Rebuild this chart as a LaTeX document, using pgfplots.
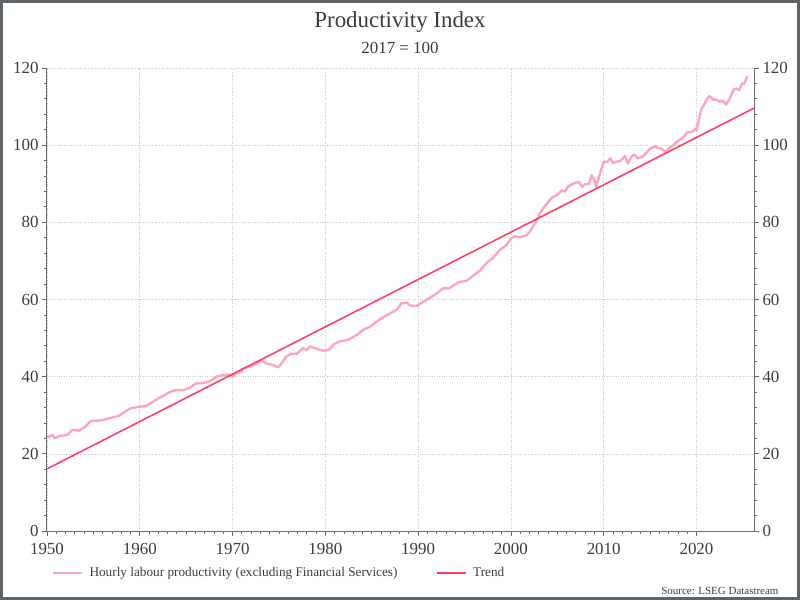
\documentclass[border=0pt]{standalone}
\usepackage{pgfplots}
\pgfplotsset{compat=1.18}
\usepackage{fontspec}
\setmainfont{Liberation Serif}

\definecolor{prodpink}{RGB}{255,165,185}
\definecolor{trendred}{RGB}{255,65,105}
\definecolor{txtgray}{RGB}{60,60,60}
\definecolor{axgray}{RGB}{105,105,105}
\definecolor{framegray}{RGB}{95,100,105}

% hourly labour productivity, excl. financial services (2017 = 100)
\pgfplotstableread{
year  value
1950.0 24.2
1950.6 24.9
1950.8 24.0
1951.3 24.6
1952.2 24.9
1952.7 26.2
1953.4 26.0
1954.1 27.0
1954.7 28.5
1955.4 28.6
1955.9 28.7
1957.0 29.4
1957.7 29.8
1958.4 30.9
1959.0 31.8
1960.0 32.2
1960.7 32.4
1961.4 33.5
1962.1 34.5
1962.8 35.4
1963.5 36.3
1964.0 36.5
1964.7 36.5
1965.4 37.2
1966.1 38.3
1966.8 38.3
1967.6 38.9
1968.3 40.0
1969.0 40.4
1969.7 40.5
1970.0 40.0
1970.4 41.0
1970.9 41.2
1971.1 42.1
1971.9 42.6
1972.6 43.4
1973.1 44.1
1973.7 43.4
1974.4 43.0
1974.9 42.4
1975.2 43.2
1975.8 45.2
1976.3 45.9
1976.9 45.9
1977.6 47.4
1978.0 46.9
1978.3 47.8
1979.0 47.3
1979.5 46.9
1979.9 46.7
1980.4 47.0
1980.9 48.4
1981.6 49.2
1982.4 49.5
1983.4 50.8
1984.1 52.2
1984.8 52.9
1985.5 54.2
1986.2 55.4
1987.0 56.4
1987.7 57.4
1988.2 59.0
1988.8 59.2
1989.1 58.5
1989.6 58.3
1990.0 58.5
1990.5 59.4
1991.2 60.3
1992.0 61.6
1992.7 62.9
1993.3 62.9
1993.8 63.7
1994.5 64.6
1995.2 64.8
1995.9 66.1
1996.7 67.6
1997.4 69.5
1998.1 70.9
1998.8 72.8
1999.5 74.1
2000.0 75.8
2000.4 76.4
2000.9 76.1
2001.7 76.7
2002.0 77.5
2002.6 79.7
2003.1 82.3
2003.6 84.0
2004.4 86.4
2004.9 87.0
2005.5 88.3
2005.8 88.0
2006.2 89.4
2006.9 90.2
2007.3 90.5
2007.7 89.2
2008.0 89.9
2008.4 89.9
2008.7 92.2
2009.0 91.0
2009.2 89.2
2009.6 92.7
2010.0 95.7
2010.4 95.7
2010.7 96.6
2011.0 95.4
2011.4 95.7
2011.9 96.1
2012.3 97.2
2012.6 95.2
2013.0 97.0
2013.3 97.6
2013.7 96.6
2014.2 97.0
2015.0 99.1
2015.6 99.7
2015.9 99.1
2016.1 99.3
2016.6 98.3
2017.0 99.1
2017.5 100.0
2018.1 101.3
2018.6 102.0
2019.0 103.4
2019.5 103.4
2019.9 104.3
2020.0 103.9
2020.2 106.0
2020.5 109.1
2021.1 111.8
2021.4 112.7
2021.8 111.8
2022.2 111.8
2022.5 111.2
2022.8 111.6
2023.2 110.6
2023.6 112.1
2024.0 114.4
2024.3 114.7
2024.6 114.2
2024.9 116.0
2025.1 115.8
2025.5 117.9
}\prodtable

\pgfplotsset{
  prodaxis/.style={
    at={(47bp,69bp)}, anchor=south west,
    width=707bp, height=463bp, scale only axis,
    xmin=1950, xmax=2026.2, ymin=0, ymax=120,
    ytick={0,20,...,120}, minor y tick num=4,
    tick align=outside,
    major tick length=5bp, minor tick length=3bp,
    axis line style={axgray, line width=1bp},
    tick style={axgray, line width=0.8bp},
    ticklabel style={font=\fontsize{17}{17}\selectfont, text=txtgray},
    /pgf/number format/assume math mode=true,
  },
}

\begin{document}
\begin{tikzpicture}
\useasboundingbox (0bp,0bp) rectangle (800bp,600bp);

\begin{axis}[
  prodaxis,
  axis x line*=bottom, axis y line*=left,
  xtick={1950,1960,...,2020}, minor x tick num=9,
  x tick label style={/pgf/number format/1000 sep={}, yshift=-4bp},
  xmajorgrids, ymajorgrids,
  grid style={dotted, gray!45, line width=0.6bp},
  legend style={at={(axis description cs:0.007,-0.091)}, anchor=west,
    draw=none, fill=none, inner xsep=0pt, legend columns=2,
    font=\fontsize{13.3}{13.3}\selectfont, text=txtgray,
    /tikz/every even column/.append style={column sep=37bp}},
  legend image code/.code={\draw[#1] (0bp,0bp) -- (29bp,0bp); \path (33bp,0bp);},
]
\addplot[prodpink, line width=2.4bp, line join=round] table[x=year, y=value] {\prodtable};
\addlegendentry{Hourly labour productivity (excluding Financial Services)}
\addplot[trendred, line width=1.6bp] coordinates {(1950,16.1) (2026.2,109.6)};
\addlegendentry{Trend}
\end{axis}

\begin{axis}[
  prodaxis,
  axis x line=none, axis y line*=right,
]
\addplot[draw=none, forget plot] coordinates {(1950,0) (2026,120)};
\end{axis}

\node[font=\fontsize{23}{23}\selectfont, text=txtgray] at (400bp,578bp) {Productivity Index};
\node[font=\fontsize{17}{17}\selectfont, text=txtgray] at (400bp,552bp) {2017 = 100};
\node[anchor=east, font=\fontsize{11}{11}\selectfont, text=txtgray] at (782bp,9bp) {Source: LSEG Datastream};
\draw[framegray, line width=3bp] (1.5bp,1.5bp) rectangle (798.5bp,598.5bp);
\end{tikzpicture}
\end{document}
